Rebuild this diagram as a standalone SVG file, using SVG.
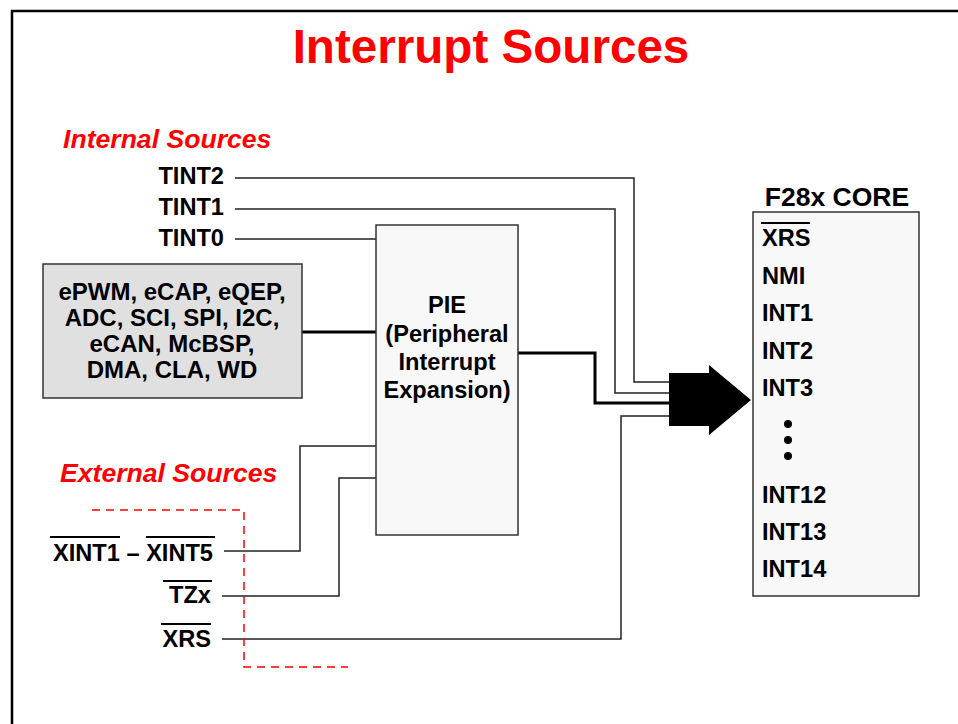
<svg xmlns="http://www.w3.org/2000/svg" width="958" height="724" viewBox="0 0 958 724">
<style>
text{font-family:"Liberation Sans",Arial,sans-serif;font-weight:bold;fill:#000}
.t{font-size:23.6px}
.b{font-size:24px}
.red{fill:#ff0000}
.ln{fill:none;stroke:#222;stroke-width:1.5}
.thk{fill:none;stroke:#000;stroke-width:3}
.ov{stroke:#000;stroke-width:2}
.box{stroke:#333;stroke-width:1.5}
</style>
<rect width="958" height="724" fill="#fff"/>
<path d="M12,724 V11 H958" fill="none" stroke="#000" stroke-width="2.5"/>
<text x="491" y="63" text-anchor="middle" class="red" font-size="47.6">Interrupt Sources</text>
<text x="63" y="148" class="red" font-size="26.6" font-style="italic">Internal Sources</text>
<text x="60" y="482" class="red" font-size="26.6" font-style="italic">External Sources</text>
<g id="connectors">
<path class="ln" d="M235,178 H634 V382 H669"/>
<path class="ln" d="M235,209 H615 V393 H669"/>
<path class="ln" d="M235,239 H376"/>
<path class="thk" d="M302,332 H376"/>
<path class="thk" d="M518,353 H595 V403 H669"/>
<path class="ln" d="M224,551 H300 V446 H376"/>
<path class="ln" d="M222,596 H339 V478 H376"/>
<path class="ln" d="M222,639 H621 V416 H669"/>
<path d="M669,373 H709 V365 L751,400 L709,435 V426 H669 Z" fill="#000"/>
<path d="M92,510 H244 V667 H348" fill="none" stroke="#ff0000" stroke-width="1.5" stroke-dasharray="8,6"/>
</g>
<g id="tint">
<text x="224" y="184" class="t" text-anchor="end">TINT2</text>
<text x="224" y="215" class="t" text-anchor="end">TINT1</text>
<text x="224" y="246" class="t" text-anchor="end">TINT0</text>
</g>
<g id="peripherals">
<rect x="43" y="264" width="259" height="134" fill="#e0e0e0" class="box"/>
<text x="172" y="300" class="b" text-anchor="middle">ePWM, eCAP, eQEP,</text>
<text x="172" y="326" class="b" text-anchor="middle">ADC, SCI, SPI, I2C,</text>
<text x="172" y="352" class="b" text-anchor="middle">eCAN, McBSP,</text>
<text x="172" y="378" class="b" text-anchor="middle">DMA, CLA, WD</text>
</g>
<g id="pie">
<rect x="376" y="225" width="142" height="310" fill="#f8f8f8" class="box"/>
<text x="447" y="313" class="t" text-anchor="middle">PIE</text>
<text x="447" y="342" class="t" text-anchor="middle">(Peripheral</text>
<text x="447" y="370" class="t" text-anchor="middle">Interrupt</text>
<text x="447" y="398" class="t" text-anchor="middle">Expansion)</text>
</g>
<g id="core">
<text x="837" y="206" font-size="26.5" text-anchor="middle">F28x CORE</text>
<rect x="753" y="212" width="166" height="384" fill="#f8f8f8" class="box"/>
<text x="762" y="246" class="t">XRS</text>
<line x1="761" y1="223" x2="810" y2="223" class="ov"/>
<text x="762" y="284" class="t">NMI</text>
<text x="762" y="321" class="t">INT1</text>
<text x="762" y="359" class="t">INT2</text>
<text x="762" y="396" class="t">INT3</text>
<circle cx="788" cy="424" r="4" fill="#000"/>
<circle cx="788" cy="440" r="4" fill="#000"/>
<circle cx="788" cy="456" r="4" fill="#000"/>
<text x="762" y="503" class="t">INT12</text>
<text x="762" y="540" class="t">INT13</text>
<text x="762" y="577" class="t">INT14</text>
</g>
<g id="external">
<text x="213" y="561" class="t" text-anchor="end">XINT1 – XINT5</text>
<line x1="50" y1="537" x2="120" y2="537" class="ov"/>
<line x1="146" y1="537" x2="215" y2="537" class="ov"/>
<text x="211" y="603" class="t" text-anchor="end">TZx</text>
<line x1="163" y1="581" x2="212" y2="581" class="ov"/>
<text x="211" y="647" class="t" text-anchor="end">XRS</text>
<line x1="161" y1="624" x2="211" y2="624" class="ov"/>
</g>
</svg>
